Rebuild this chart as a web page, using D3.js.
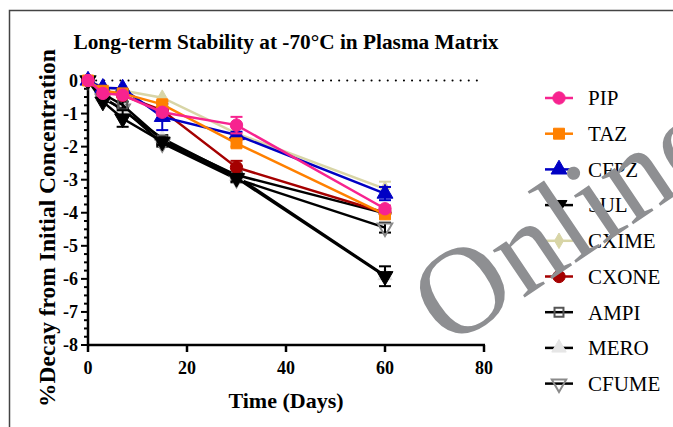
<!DOCTYPE html>
<html lang="en">
<head>
  <meta charset="utf-8">
  <title>Long-term Stability</title>
  <script src="https://cdn.jsdelivr.net/npm/d3@7"></script>
  <style>
    body { margin: 0; background: #fff; }
    text { font-family: "Liberation Serif", serif; }
  </style>
</head>
<body>
<svg id="chart" width="673" height="427"></svg>
<script>
  // time points (days)
  const days = [0, 3, 7, 15, 30, 60]
  const names = ['PIP', 'TAZ', 'CFPZ', 'SULF', 'CXIME', 'CXONE', 'AMPI', 'MERO', 'CFUME']
  const legendLabels = ['PIP', 'TAZ', 'CFPZ', 'SUL', 'CXIME', 'CXONE', 'AMPI', 'MERO', 'CFUME']

  // % decay values
  const pip   = [0, -0.39, -0.44, -0.96, -1.35, -3.88]
  const taz   = [0, -0.31, -0.39, -0.72, -1.90, -4.05]
  const cfpz  = [0, -0.22, -0.24, -1.10, -1.65, -3.42]
  const sulf  = [0, -0.64, -1.15, -1.85, -2.95, -5.92]
  const cxime = [0, -0.20, -0.30, -0.52, -1.60, -3.28]
  const cxone = [0, -0.33, -0.45, -0.90, -2.63, -4.00]
  const ampi  = [0, -0.40, -0.74, -1.80, -2.86, -4.02]
  const mero  = [0, -0.50, -0.90, -1.75, -2.90, -5.90]
  const cfume = [0, -0.55, -0.85, -1.90, -2.98, -4.45]

  // error bars (SD)
  const pipErr   = [0, 0.05, 0.05, 0.1, 0.25, 0.1]
  const tazErr   = [0, 0.05, 0.05, 0.1, 0.1, 0.1]
  const cfpzErr  = [0, 0.05, 0.05, 0.4, 0.1, 0.2]
  const sulfErr  = [0, 0.05, 0.25, 0.1, 0.1, 0.3]
  const cximeErr = [0, 0.05, 0.05, 0.05, 0.05, 0.22]
  const cxoneErr = [0, 0.05, 0.05, 0.1, 0.2, 0.1]
  const ampiErr  = [0, 0.05, 0.1, 0.1, 0.1, 0.1]
  const meroErr  = [0, 0.05, 0.05, 0.1, 0.1, 0.1]
  const cfumeErr = [0, 0.05, 0.05, 0.1, 0.1, 0.15]

  const values = [pip, taz, cfpz, sulf, cxime, cxone, ampi, mero, cfume]
  const errors = [pipErr, tazErr, cfpzErr, sulfErr, cximeErr, cxoneErr, ampiErr, meroErr, cfumeErr]

  const lineColors = ['#f7238f', '#ff8000', '#0000c4', '#000000', '#d8d5a6', '#a50000', '#000000', '#000000', '#000000']
  const markFill   = ['#f7238f', '#ff8000', '#0000c4', '#000000', '#d8d5a6', '#a50000', 'none', '#e6e6e6', 'none']
  const markStroke = ['#f7238f', '#ff8000', '#0000c4', '#000000', '#d8d5a6', '#a50000', '#555555', '#e6e6e6', '#8a8a8a']
  const shapes = [d3.symbolCircle, d3.symbolSquare, d3.symbolTriangle, 'down', d3.symbolDiamond,
                  d3.symbolCircle, d3.symbolSquare, d3.symbolTriangle, 'down']
  const sizes = [120, 120, 110, 110, 70, 120, 80, 90, 90]

  const svg = d3.select('#chart')

  // frame of the figure
  svg.append('path')
    .attr('d', 'M9.5,427 L9.5,10.5 L673,10.5')
    .attr('fill', 'none')
    .attr('stroke', '#444')
    .attr('stroke-width', 1.5)

  const x = d3.scaleLinear().domain([0, 80]).range([88, 484])
  const y = d3.scaleLinear().domain([-8, 0]).range([345, 80.5])

  // title
  svg.append('text')
    .attr('x', 286).attr('y', 49)
    .attr('text-anchor', 'middle')
    .style('font-size', '21.3px').style('font-weight', 'bold')
    .text('Long-term Stability at -70°C in Plasma Matrix')

  // dotted zero line
  svg.append('line')
    .attr('x1', x(0)).attr('x2', x(80))
    .attr('y1', y(0)).attr('y2', y(0))
    .attr('stroke', '#000').attr('stroke-width', 2)
    .attr('stroke-dasharray', '0.1 8').attr('stroke-linecap', 'round')

  // y axis
  const yAxis = svg.append('g').attr('transform', `translate(${x(0)},0)`)
  yAxis.append('line')
    .attr('x1', 0).attr('x2', 0).attr('y1', y(0) - 1).attr('y2', y(-8))
    .attr('stroke', '#000').attr('stroke-width', 2.5)
  yAxis.selectAll('.minor')
    .data(d3.range(-8, 0.01, 0.25))
    .enter().append('line')
    .attr('x1', d => Number.isInteger(d) ? -7 : -4).attr('x2', 0)
    .attr('y1', d => y(d)).attr('y2', d => y(d))
    .attr('stroke', '#000').attr('stroke-width', 2)
  yAxis.selectAll('.ylab')
    .data(d3.range(-8, 1, 1))
    .enter().append('text')
    .attr('x', -10).attr('y', d => y(d))
    .attr('dy', '0.35em').attr('text-anchor', 'end')
    .style('font-size', '18px').style('font-weight', 'bold')
    .text(d => d)

  // x axis
  const xAxis = svg.append('g').attr('transform', `translate(0,${y(-8)})`)
  xAxis.append('line')
    .attr('x1', x(0) - 1).attr('x2', x(80) + 1).attr('y1', 0).attr('y2', 0)
    .attr('stroke', '#000').attr('stroke-width', 2.5)
  xAxis.selectAll('.xt')
    .data([0, 20, 40, 60, 80])
    .enter().append('line')
    .attr('x1', d => x(d)).attr('x2', d => x(d))
    .attr('y1', 0).attr('y2', 7)
    .attr('stroke', '#000').attr('stroke-width', 2.5)
  xAxis.selectAll('.xlab')
    .data([0, 20, 40, 60, 80])
    .enter().append('text')
    .attr('x', d => x(d)).attr('y', 29)
    .attr('text-anchor', 'middle')
    .style('font-size', '18px').style('font-weight', 'bold')
    .text(d => d)

  // axis titles
  svg.append('text')
    .attr('x', 286).attr('y', 408)
    .attr('text-anchor', 'middle')
    .style('font-size', '22px').style('font-weight', 'bold')
    .text('Time (Days)')
  svg.append('text')
    .attr('transform', 'translate(55,228) rotate(-90)')
    .attr('text-anchor', 'middle')
    .style('font-size', '23.5px').style('font-weight', 'bold')
    .text('%Decay from Initial Concentration')

  function symbolPath(i) {
    if (shapes[i] === 'down') {
      return d3.symbol().type(d3.symbolTriangle).size(sizes[i])()
    }
    return d3.symbol().type(shapes[i]).size(sizes[i])()
  }
  function symbolRot(i) { return shapes[i] === 'down' ? ' rotate(180)' : '' }

  const line = d3.line().x(d => x(d[0])).y(d => y(d[1]))

  // draw last series first so PIP ends up on top
  const order = d3.range(names.length).reverse()
  order.forEach(i => {
    const pts = days.map((t, k) => [t, values[i][k], errors[i][k]])
    const g = svg.append('g').attr('class', names[i])
    g.append('path')
      .datum(pts)
      .attr('d', line)
      .attr('fill', 'none')
      .attr('stroke', lineColors[i])
      .attr('stroke-width', 2.5)
    // error bars
    const eb = g.selectAll('.err').data(pts.filter(p => p[2] > 0.06)).enter().append('g')
    eb.append('line')
      .attr('x1', d => x(d[0])).attr('x2', d => x(d[0]))
      .attr('y1', d => y(d[1] + d[2])).attr('y2', d => y(d[1] - d[2]))
      .attr('stroke', lineColors[i]).attr('stroke-width', 2)
    eb.selectAll('.cap').data(d => [d[1] + d[2], d[1] - d[2]].map(v => [d[0], v]))
      .enter().append('line')
      .attr('x1', d => x(d[0]) - 6).attr('x2', d => x(d[0]) + 6)
      .attr('y1', d => y(d[1])).attr('y2', d => y(d[1]))
      .attr('stroke', lineColors[i]).attr('stroke-width', 2)
    g.selectAll('.pt').data(pts).enter().append('path')
      .attr('d', symbolPath(i))
      .attr('transform', d => `translate(${x(d[0])},${y(d[1])})` + symbolRot(i))
      .attr('fill', markFill[i])
      .attr('stroke', markStroke[i])
      .attr('stroke-width', markFill[i] === 'none' ? 2 : 1)
  })

  // legend
  const legend = svg.append('g')
  legendLabels.forEach((lab, i) => {
    const ly = 98 + i * 35.7
    legend.append('line')
      .attr('x1', 545).attr('x2', 573).attr('y1', ly).attr('y2', ly)
      .attr('stroke', lineColors[i]).attr('stroke-width', 2.5)
    legend.append('path')
      .attr('d', symbolPath(i))
      .attr('transform', `translate(559,${ly})` + symbolRot(i))
      .attr('fill', markFill[i])
      .attr('stroke', markStroke[i])
      .attr('stroke-width', markFill[i] === 'none' ? 2 : 1)
    legend.append('text')
      .attr('x', 588).attr('y', ly).attr('dy', '0.35em')
      .style('font-size', '21px')
      .text(lab)
  })

  // watermark
  svg.append('text')
    .attr('transform', 'translate(448,349) rotate(-34)')
    .attr('fill', '#8e8f92')
    .style('font-size', '124px')
    .text('Online')
</script>
</body>
</html>
